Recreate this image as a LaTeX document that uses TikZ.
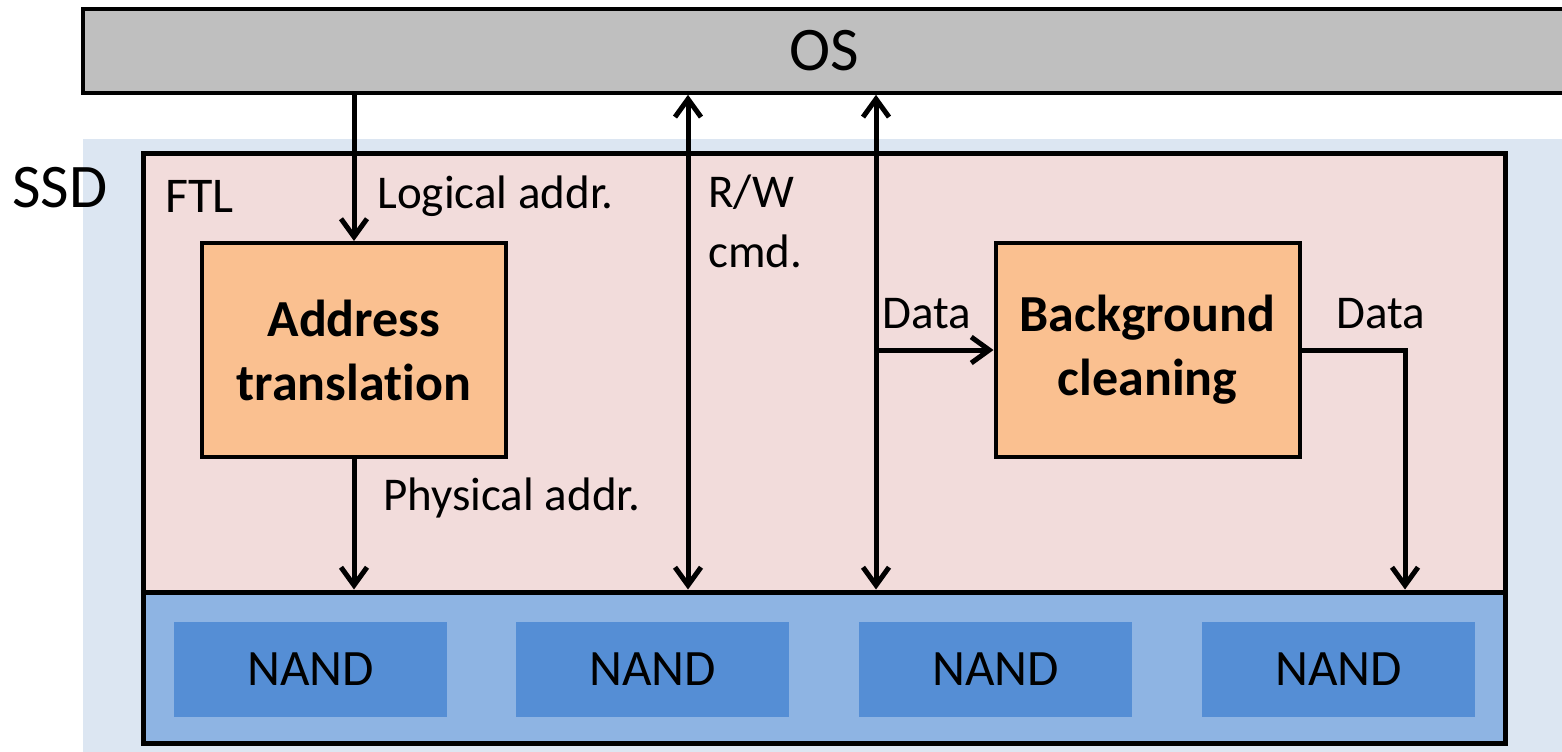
\documentclass[tikz,border=0pt]{standalone}
\usepackage{fontspec}
\setmainfont{Carlito}[Ligatures=NoCommon]
\usetikzlibrary{arrows.meta}

\definecolor{osgray}{HTML}{BFBFBF}
\definecolor{ssdblue}{HTML}{DCE6F2}
\definecolor{ftlpink}{HTML}{F2DCDB}
\definecolor{unitorange}{HTML}{FAC090}
\definecolor{flashblue}{HTML}{8EB4E3}
\definecolor{chipblue}{HTML}{558ED5}

% one drawing unit is 0.5pt; node sizes below are given in pt
\tikzset{
  osbar/.style={draw=black, line width=1.8pt, fill=osgray, inner sep=0pt,
    font=\fontsize{31}{36}\selectfont},
  ftlbox/.style={draw=black, line width=2.5pt, fill=ftlpink, inner sep=0pt},
  flashbox/.style={draw=black, line width=2.5pt, fill=flashblue, inner sep=0pt},
  chip/.style={fill=chipblue, inner sep=0pt, minimum width=136.5pt, minimum height=47.5pt,
    font=\fontsize{25.5}{30}\selectfont},
  unit/.style={draw=black, line width=2pt, fill=unitorange, inner sep=0pt,
    minimum width=152pt, minimum height=107pt, align=center,
    font=\fontsize{26}{32}\selectfont\bfseries},
  lbl/.style={inner sep=0pt, anchor=base west, font=\fontsize{23.5}{28}\selectfont},
  arr/.style={line width=2.5pt, -{Straight Barb[length=9pt,width=13pt]}},
  dblarr/.style={line width=2.5pt, {Straight Barb[length=9pt,width=13pt]}-{Straight Barb[length=9pt,width=13pt]}},
}

\begin{document}
\begin{tikzpicture}[x=0.5pt, y=-0.5pt]
\useasboundingbox (0,0) rectangle (1562,751);
\clip (0,0) rectangle (1562,751);

% SSD backdrop
\fill[ssdblue] (83,139) rectangle (1600,800);
\node[lbl, font=\fontsize{31}{36}\selectfont] (ssd) at (12,207) {SSD};

% host operating system
\node[osbar, minimum width=741pt, minimum height=42pt] (os) at (824,51) {OS};

% flash translation layer and flash array
\node[ftlbox, minimum width=681pt, minimum height=219.5pt] (ftl) at (824,372.5) {};
\node[flashbox, minimum width=681pt, minimum height=75.5pt] (flash) at (824,667.5) {};
\node[lbl, font=\fontsize{25}{30}\selectfont] (ftllbl) at (165,212) {FTL};

\node[chip] (nand1) at (310.5,669.5) {NAND};
\node[chip] (nand2) at (652.5,669.5) {NAND};
\node[chip] (nand3) at (995.5,669.5) {NAND};
\node[chip] (nand4) at (1338.5,669.5) {NAND};

% FTL units
\node[unit] (addr) at (354,350) {Address\\translation};
\node[unit] (bg) at (1147.5,350) {Background\\cleaning};

% tap points of the command and data paths
\coordinate (rw) at (688,350);
\coordinate (dt) at (876,350);
\coordinate (out) at (1405,350);

% connectors
\draw[arr] (addr.north |- os.south) -- (addr.north);
\draw[arr] (addr.south) -- (addr.south |- flash.north);
\draw[dblarr] (rw |- os.south) -- (rw |- flash.north);
\draw[dblarr] (dt |- os.south) -- (dt |- flash.north);
\draw[arr] (dt) -- (bg.west);
\draw[arr, line join=miter] (bg.east) -| (out |- flash.north);

% connector labels
\node[lbl] (logical) at (377,208) {Logical addr.};
\node[lbl] (physical) at (383,510) {Physical addr.};
\node[lbl] (rwa) at (708,207) {R/W};
\node[lbl] (rwb) at (708,267) {cmd.};
\node[lbl] (datain) at (882,328) {Data};
\node[lbl] (dataout) at (1336,328) {Data};
\end{tikzpicture}
\end{document}
